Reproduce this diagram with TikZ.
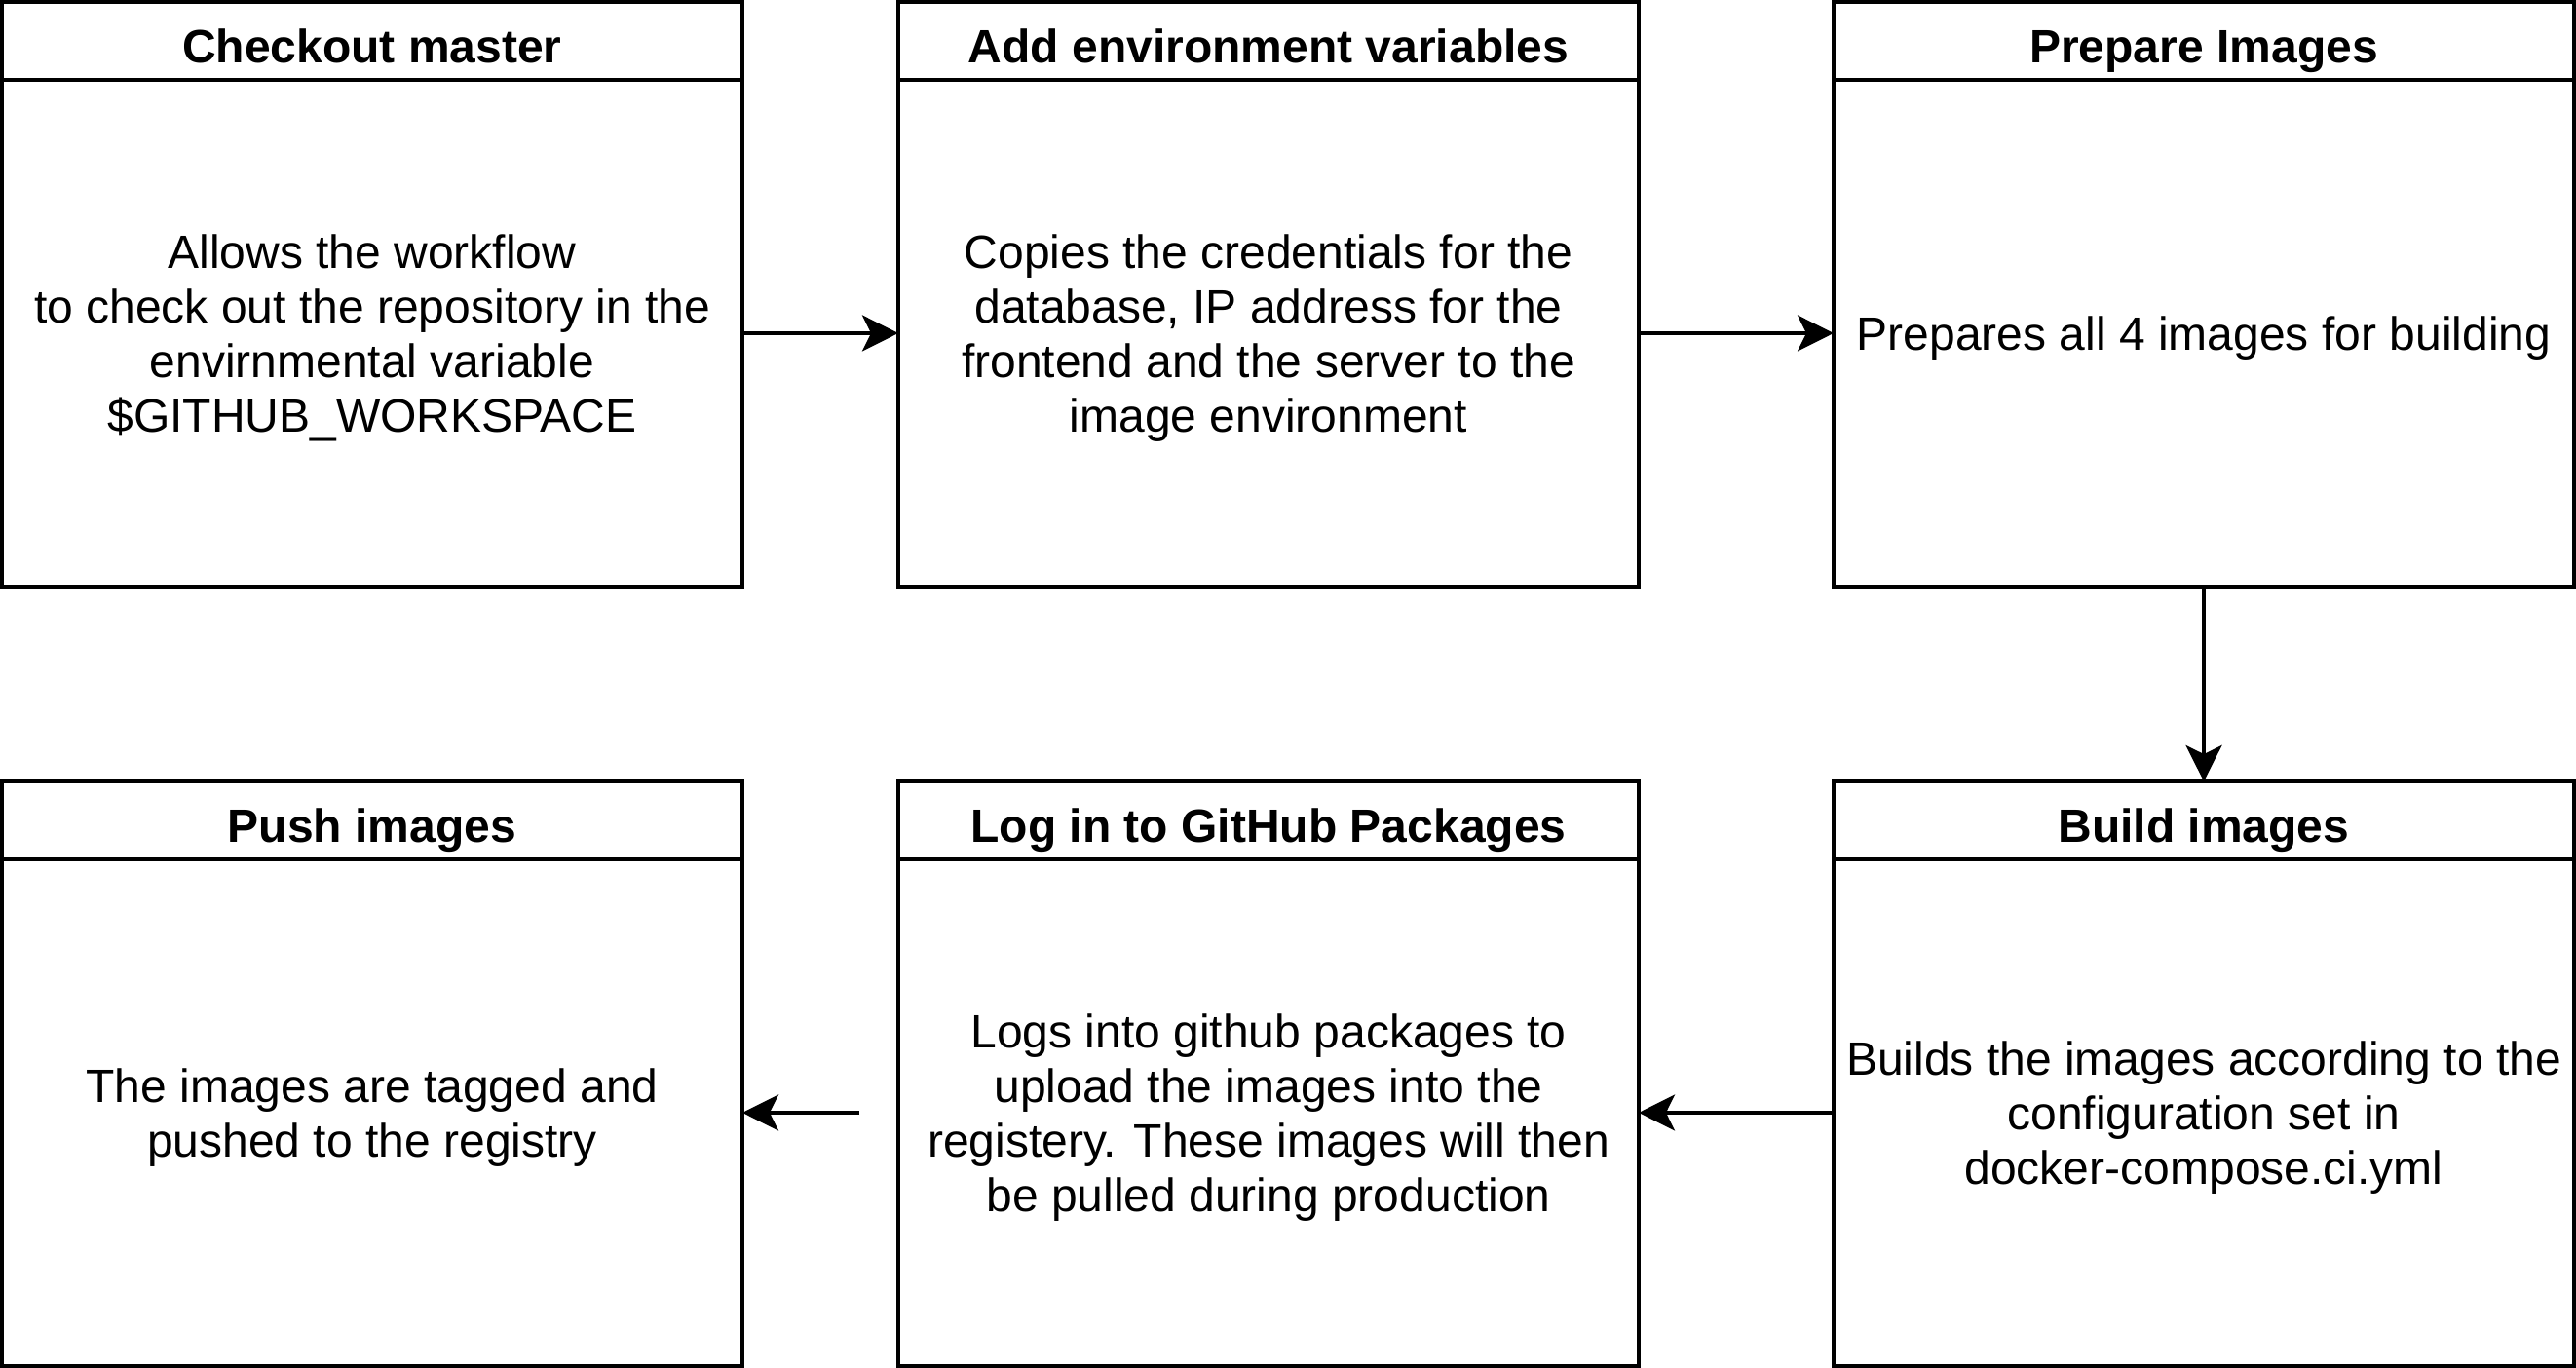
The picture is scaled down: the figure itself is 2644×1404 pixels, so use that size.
\documentclass[tikz,border=0pt]{standalone}
\usepackage{fontspec}
\setmainfont{Liberation Sans}
\usetikzlibrary{arrows.meta}

\tikzset{
 lane/.style={draw=black, line width=3.6pt, minimum width=760pt, inner sep=0pt, outer sep=0pt, align=center},
 lanehead/.style={lane, minimum height=80pt, text height=46pt, text depth=0pt, font=\bfseries},
 lanebody/.style={lane, minimum height=520pt, text height=#1, anchor=north},
 lanebody/.default=44pt,
 flow/.style={black, line width=3.6pt, -{Stealth[length=37pt, width=37pt, inset=9pt]}}
}

\begin{document}
\fontsize{48}{56}\selectfont
\begin{tikzpicture}[x=1pt, y=1pt]
\useasboundingbox (0,0) rectangle (2644,1404);
% top row
\node[lanehead] (checkouthead) at (382,1362) {Checkout master};
\node[lanebody=212pt] (checkout) at (checkouthead.south) {Allows the workflow\\to check out the repository in the\\envirnmental variable\\\$GITHUB\_WORKSPACE};
\node[lanehead] (envhead) at (1302,1362) {Add environment variables};
\node[lanebody=212pt] (env) at (envhead.south) {Copies the credentials for the\\database, IP address for the\\frontend and the server to the\\image environment};
\node[lanehead] (preparehead) at (2262,1362) {Prepare Images};
\node[lanebody] (prepare) at (preparehead.south) {Prepares all 4 images for building};
% bottom row
\node[lanehead] (pushhead) at (382,562) {Push images};
\node[lanebody=100pt] (push) at (pushhead.south) {The images are tagged and\\pushed to the registry};
\node[lanehead] (loginhead) at (1302,562) {Log in to GitHub Packages};
\node[lanebody=212pt] (login) at (loginhead.south) {Logs into github packages to\\upload the images into the\\registery. These images will then\\be pulled during production};
\node[lanehead] (buildhead) at (2262,562) {Build images};
\node[lanebody=156pt] (build) at (buildhead.south) {Builds the images according to the\\configuration set in\\docker-compose.ci.yml};
% connectors
\path (push.east) ++(120,0) coordinate (loginout);
\draw[flow] (checkout.east) -- (env.west);
\draw[flow] (env.east) -- (prepare.west);
\draw[flow] (prepare.south) -- (buildhead.north);
\draw[flow] (build.west) -- (login.east);
\draw[flow] (loginout) -- (push.east);
\end{tikzpicture}
\end{document}
